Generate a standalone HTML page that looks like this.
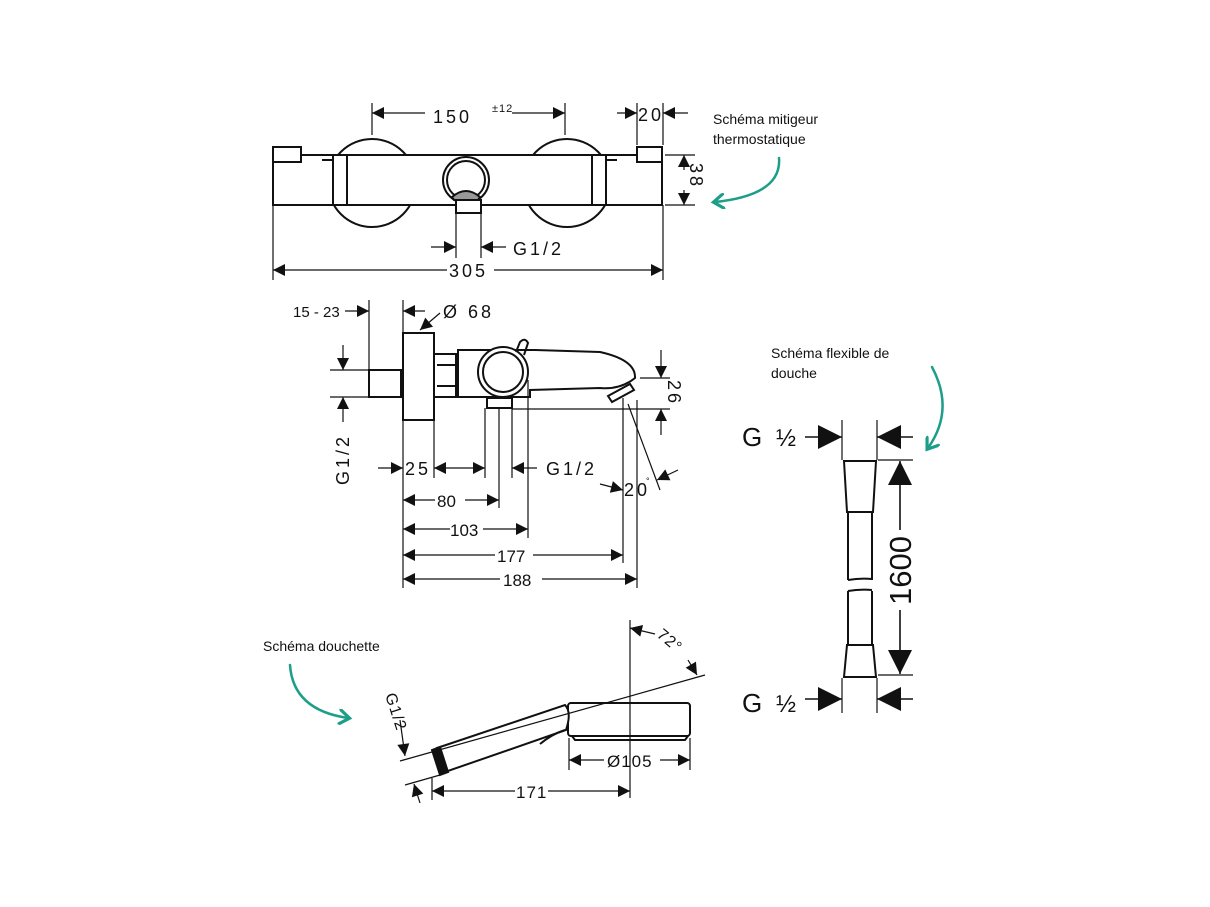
<!DOCTYPE html>
<html><head><meta charset="utf-8"><style>
html,body{margin:0;padding:0;background:#fff;}
svg{display:block;}
text{font-family:"Liberation Sans",sans-serif;fill:#111;}
</style></head><body>
<svg width="1210" height="907" viewBox="0 0 1210 907" xmlns="http://www.w3.org/2000/svg">
<defs>
<marker id="a" viewBox="0 0 10 10" refX="10" refY="5" markerWidth="14" markerHeight="12" markerUnits="userSpaceOnUse" orient="auto-start-reverse"><path d="M0,0 L10,5 L0,10z" fill="#111"/></marker>
<marker id="b" viewBox="0 0 10 10" refX="10" refY="5" markerWidth="24" markerHeight="24" markerUnits="userSpaceOnUse" orient="auto-start-reverse"><path d="M0,0 L10,5 L0,10z" fill="#111"/></marker>
<marker id="t" viewBox="0 0 10 10" refX="6" refY="5" markerWidth="16" markerHeight="16" markerUnits="userSpaceOnUse" orient="auto"><path d="M0,0 L7,5 L0,10" fill="none" stroke="#1d9e88" stroke-width="2"/></marker>
</defs>
<g fill="none" stroke="#111" stroke-width="2">
<!-- TOP VIEW -->
<circle cx="372" cy="183" r="44"/><circle cx="567" cy="183" r="44"/>
<rect x="273" y="155" width="389" height="50" fill="#fff"/>
<rect x="273" y="147" width="28" height="15" fill="#fff"/>
<rect x="637" y="147" width="25" height="15" fill="#fff"/>
<rect x="333" y="155" width="14" height="50" fill="#fff"/>
<rect x="592" y="155" width="14" height="50" fill="#fff"/>
<line x1="322" y1="160" x2="333" y2="160"/><line x1="606" y1="160" x2="617" y2="160"/>
<circle cx="466" cy="180" r="23"/><circle cx="466" cy="180" r="19"/>
<path d="M452,197 Q466,185 480,197 L478,200 L454,200z" fill="#999"/>
<rect x="456" y="200" width="25" height="13" fill="#fff"/>
<g stroke-width="1.2">
<line x1="372" y1="103" x2="372" y2="135"/><line x1="565" y1="103" x2="565" y2="135"/>
<line x1="637" y1="103" x2="637" y2="145"/><line x1="663" y1="103" x2="663" y2="145"/>
<line x1="273" y1="205" x2="273" y2="280"/><line x1="663" y1="205" x2="663" y2="280"/>
<line x1="665" y1="155" x2="695" y2="155"/><line x1="665" y1="205" x2="695" y2="205"/>
<line x1="456" y1="213" x2="456" y2="258"/><line x1="481" y1="213" x2="481" y2="258"/>
<line x1="372" y1="113" x2="425" y2="113" marker-start="url(#a)"/><line x1="512" y1="113" x2="565" y2="113" marker-end="url(#a)"/>
<line x1="617" y1="113" x2="637" y2="113" marker-end="url(#a)"/><line x1="688" y1="113" x2="663" y2="113" marker-end="url(#a)"/>
<line x1="684" y1="170" x2="684" y2="155" marker-end="url(#a)"/><line x1="684" y1="190" x2="684" y2="205" marker-end="url(#a)"/>
<line x1="273" y1="270" x2="447" y2="270" marker-start="url(#a)"/><line x1="494" y1="270" x2="663" y2="270" marker-end="url(#a)"/>
<line x1="431" y1="247" x2="456" y2="247" marker-end="url(#a)"/><line x1="506" y1="247" x2="481" y2="247" marker-end="url(#a)"/>
</g>
<!-- SIDE VIEW -->
<rect x="369" y="370" width="32" height="27"/>
<rect x="403" y="333" width="31" height="87" fill="#fff"/>
<rect x="434" y="354" width="22" height="43"/>
<line x1="437" y1="365" x2="456" y2="365"/><line x1="437" y1="386" x2="456" y2="386"/>
<path d="M458,350 L458,397 L530,397 L530,390 L600,388 Q620,390 635,378 Q636,360 600,352 L535,350 z"/>
<circle cx="503" cy="372" r="25" fill="#fff"/>
<circle cx="503" cy="372" r="20"/>
<path d="M516,352 L520,342 Q525,337 528,343 L524,355"/>
<rect x="487" y="398" width="25" height="10"/>
<path d="M608,396 L630,384 L634,390 L612,402z"/>
<g stroke-width="1.2">
<line x1="369" y1="300" x2="369" y2="370"/>
<line x1="403" y1="300" x2="403" y2="588"/>
<line x1="434" y1="420" x2="434" y2="478"/>
<line x1="485" y1="408" x2="485" y2="478"/>
<line x1="499" y1="408" x2="499" y2="508"/>
<line x1="512" y1="408" x2="512" y2="478"/>
<line x1="528" y1="380" x2="528" y2="538"/>
<line x1="623" y1="398" x2="623" y2="563"/>
<line x1="637" y1="400" x2="637" y2="588"/>
<line x1="628" y1="404" x2="660" y2="490"/>
<line x1="512" y1="409" x2="670" y2="409"/><line x1="640" y1="378" x2="670" y2="378"/>
<line x1="330" y1="370" x2="369" y2="370"/><line x1="330" y1="397" x2="369" y2="397"/>
<line x1="345" y1="311" x2="369" y2="311" marker-end="url(#a)"/>
<line x1="425" y1="311" x2="403" y2="311" marker-end="url(#a)"/>
<line x1="440" y1="313" x2="420" y2="330" marker-end="url(#a)"/>
<line x1="343" y1="345" x2="343" y2="370" marker-end="url(#a)"/><line x1="343" y1="422" x2="343" y2="397" marker-end="url(#a)"/>
<line x1="661" y1="350" x2="661" y2="378" marker-end="url(#a)"/><line x1="661" y1="435" x2="661" y2="409" marker-end="url(#a)"/>
<line x1="378" y1="468" x2="403" y2="468" marker-end="url(#a)"/>
<line x1="434" y1="468" x2="485" y2="468" marker-start="url(#a)" marker-end="url(#a)"/>
<line x1="537" y1="468" x2="512" y2="468" marker-end="url(#a)"/>
<line x1="600" y1="484" x2="623" y2="490" marker-end="url(#a)"/>
<line x1="678" y1="470" x2="657" y2="480" marker-end="url(#a)"/>
<line x1="403" y1="500" x2="435" y2="500" marker-start="url(#a)"/><line x1="465" y1="500" x2="499" y2="500" marker-end="url(#a)"/>
<line x1="403" y1="529" x2="450" y2="529" marker-start="url(#a)"/><line x1="483" y1="529" x2="528" y2="529" marker-end="url(#a)"/>
<line x1="403" y1="555" x2="495" y2="555" marker-start="url(#a)"/><line x1="533" y1="555" x2="623" y2="555" marker-end="url(#a)"/>
<line x1="403" y1="579" x2="500" y2="579" marker-start="url(#a)"/><line x1="542" y1="579" x2="637" y2="579" marker-end="url(#a)"/>
</g>
<!-- HAND SHOWER -->
<rect x="568" y="703" width="122" height="33" rx="3"/>
<path d="M572,736 L575,740 L685,740 L688,736"/>
<path d="M437,748 L565,705 Q572,712 566,730 L445,772z" fill="#fff"/>
<path d="M540,744 Q552,734 565,730"/>
<path d="M432,750 L440,747 L448,772 L440,775z" fill="#111"/>
<g stroke-width="1.2">
<line x1="400" y1="761" x2="705" y2="675"/>
<line x1="405" y1="785" x2="440" y2="775"/>
<line x1="630" y1="620" x2="630" y2="798"/>
<line x1="569" y1="738" x2="569" y2="770"/><line x1="690" y1="738" x2="690" y2="770"/>
<line x1="432" y1="778" x2="432" y2="800"/>
<line x1="432" y1="791" x2="515" y2="791" marker-start="url(#a)"/><line x1="548" y1="791" x2="630" y2="791" marker-end="url(#a)"/>
<line x1="569" y1="760" x2="604" y2="760" marker-start="url(#a)"/><line x1="660" y1="760" x2="690" y2="760" marker-end="url(#a)"/>
<line x1="655" y1="634" x2="630" y2="628" marker-end="url(#a)"/>
<line x1="688" y1="660" x2="697" y2="675" marker-end="url(#a)"/>
<line x1="400" y1="720" x2="405" y2="756" marker-end="url(#a)"/>
<line x1="420" y1="803" x2="414" y2="784" marker-end="url(#a)"/>
</g>
<!-- HOSE -->
<path d="M844,461 L876,461 L873,512 L847,512z"/>
<line x1="848" y1="512" x2="848" y2="580"/><line x1="872" y1="512" x2="872" y2="580"/>
<path d="M848,580 Q860,578 872,579"/><path d="M848,591 Q860,589 872,590"/>
<line x1="848" y1="591" x2="848" y2="645"/><line x1="872" y1="591" x2="872" y2="645"/>
<path d="M847,645 L873,645 L876,677 L844,677z"/>
<g stroke-width="1.2">
<line x1="842" y1="420" x2="842" y2="460"/><line x1="877" y1="420" x2="877" y2="460"/>
<line x1="842" y1="678" x2="842" y2="713"/><line x1="877" y1="678" x2="877" y2="713"/>
<line x1="878" y1="460" x2="913" y2="460"/><line x1="878" y1="675" x2="913" y2="675"/>
</g>
<g stroke-width="1.6">
<line x1="805" y1="437" x2="842" y2="437" marker-end="url(#b)"/><line x1="913" y1="437" x2="877" y2="437" marker-end="url(#b)"/>
<line x1="805" y1="699" x2="842" y2="699" marker-end="url(#b)"/><line x1="913" y1="699" x2="877" y2="699" marker-end="url(#b)"/>
<line x1="900" y1="530" x2="900" y2="461" marker-end="url(#b)"/><line x1="900" y1="610" x2="900" y2="674" marker-end="url(#b)"/>
</g>
</g>
<!-- teal arrows -->
<g fill="none" stroke="#1d9e88" stroke-width="2.5" stroke-linecap="round">
<path d="M779,158 Q782,195 715,202" marker-end="url(#t)"/>
<path d="M932,367 Q955,410 928,448" marker-end="url(#t)"/>
<path d="M290,665 Q293,710 348,718" marker-end="url(#t)"/>
</g>
<!-- text -->
<g font-size="18" letter-spacing="3">
<text x="433" y="123">150</text><text x="492" y="112" font-size="11" letter-spacing="1">±12</text>
<text x="638" y="121">20</text>
<text x="513" y="255">G1/2</text>
<text x="449" y="277">305</text>
<text transform="translate(690,163) rotate(90)">38</text>
<text x="293" y="317" font-size="15" letter-spacing="0">15 - 23</text>
<text x="443" y="318">Ø 68</text>
<text transform="translate(668,380) rotate(90)">26</text>
<text transform="translate(349,485) rotate(-90)">G1/2</text>
<text x="405" y="475">25</text>
<text x="546" y="475">G1/2</text>
<text x="624" y="496">20</text><text x="646" y="484" font-size="9">°</text>
<text x="437" y="507" font-size="17" letter-spacing="0">80</text>
<text x="450" y="536" font-size="17" letter-spacing="0">103</text>
<text x="497" y="562" font-size="17" letter-spacing="0">177</text>
<text x="503" y="586" font-size="17" letter-spacing="0">188</text>
<text x="516" y="798" font-size="17" letter-spacing="1">171</text>
<text x="607" y="767" font-size="17" letter-spacing="1">Ø105</text>
<text transform="translate(656,636) rotate(40)" font-size="16" letter-spacing="1">72°</text>
<text transform="translate(385,695) rotate(72)" font-size="16" letter-spacing="1">G1/2</text>
</g>
<text x="742" y="446" font-size="26">G</text><text x="776" y="446" font-size="24">½</text>
<text x="742" y="712" font-size="26">G</text><text x="776" y="712" font-size="24">½</text>
<text transform="translate(911,605) rotate(-90)" font-size="31">1600</text>
<g font-size="14">
<text x="713" y="124">Schéma mitigeur</text><text x="713" y="144">thermostatique</text>
<text x="771" y="358">Schéma flexible de</text><text x="771" y="378">douche</text>
<text x="263" y="651">Schéma douchette</text>
</g>
</svg>
</body></html>
